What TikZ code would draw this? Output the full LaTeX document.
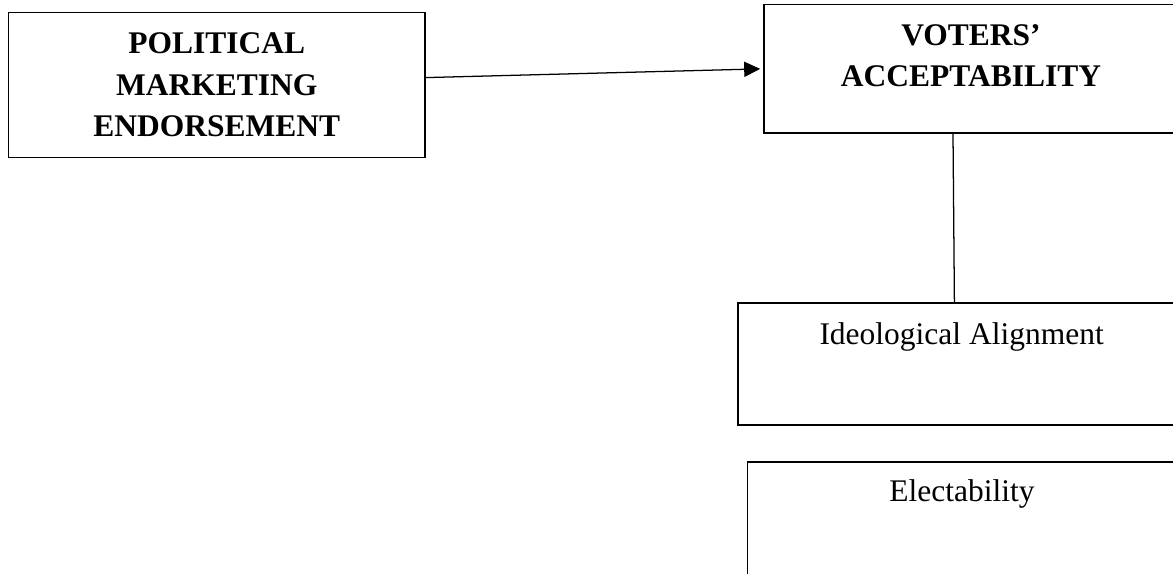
\documentclass[tikz,border=0pt]{standalone}
\usepackage{fontspec}
\setmainfont{Liberation Serif}
\usetikzlibrary{positioning,arrows.meta}

\begin{document}
\begin{tikzpicture}[
  caixa/.style={rectangle, draw, line width=0.9pt, inner sep=0pt},
  rotulo/.style={inner sep=0pt, align=center, font=\fontsize{22.4}{29.5}\selectfont},
  titulo/.style={rotulo, font=\fontsize{22.4}{29.5}\selectfont\bfseries}]
\useasboundingbox (0,0) rectangle (29.325,-14.35);
\clip (0,0) rectangle (29.325,-14.35);

\node[caixa, titulo, minimum width=10.42cm, minimum height=3.625cm](Endorsement) at (5.417,-2.13){POLITICAL\\MARKETING\\ENDORSEMENT};
\node[caixa, minimum width=10.35cm, minimum height=3.21cm](voters) at (24.275,-1.72){};
\node[titulo, below=0.5cm of voters.north](votersText){VOTERS’\\ACCEPTABILITY};
\node[caixa, minimum width=11.175cm, minimum height=3.05cm](ideology) at (24.04,-9.1){};
\node[rotulo, below=0.5cm of ideology.north](ideologyText){Ideological Alignment};
\node[caixa, minimum width=10.725cm, minimum height=3.05cm](electability) at (24.05,-13.075){};
\node[rotulo, below=0.45cm of electability.north](electabilityText){Electability};

\draw[-{Triangle[length=0.4cm,width=0.38cm]}, line width=0.9pt, shorten >=0.08cm] ([yshift=0.19cm]Endorsement.east) -- (voters.west);
\draw[line width=0.9pt] ([xshift=-0.45cm]voters.south) -- ([xshift=-0.18cm]ideology.north);

\end{tikzpicture}
\end{document}
